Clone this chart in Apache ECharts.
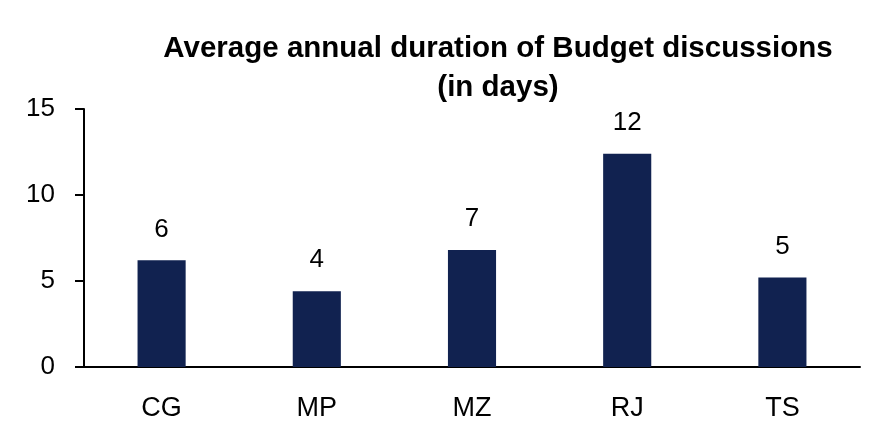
<!DOCTYPE html>
<html>
<head>
<meta charset="utf-8">
<script src="https://cdn.jsdelivr.net/npm/echarts@6/dist/echarts.min.js"></script>
<style>html,body{margin:0;padding:0;background:#fff}#c{width:878px;height:444px}</style>
</head>
<body>
<div id="c"></div>
<script>
const categories = ['CG', 'MP', 'MZ', 'RJ', 'TS'];
const values = [6.2, 4.4, 6.8, 12.4, 5.2];
const yTicks = [0, 5, 10, 15];

const FONT = '"Liberation Sans Narrow", "Arial Narrow", "Liberation Sans", Arial, sans-serif';
const chart = echarts.init(document.getElementById('c'));
chart.setOption({
  animation: false,
  title: {
    text: 'Average annual duration of Budget discussions\n(in days)',
    left: 493, top: 24, textAlign: 'center',
    textStyle: { fontFamily: FONT, fontWeight: 'bold', fontSize: 29.5, lineHeight: 39, color: '#000' }
  },
  grid: { left: 84, right: 18, top: 109, bottom: 77 },
  xAxis: {
    type: 'category', data: categories,
    axisLine: { lineStyle: { color: '#000', width: 2 } },
    axisTick: { show: false },
    axisLabel: { fontFamily: FONT, fontSize: 27, color: '#000', margin: 28 }
  },
  yAxis: {
    type: 'value', min: yTicks[0], max: yTicks[yTicks.length - 1], interval: 5,
    splitLine: { show: false },
    axisLine: { show: true, lineStyle: { color: '#000', width: 2 } },
    axisTick: { show: true, length: 9, lineStyle: { color: '#000', width: 2 } },
    axisLabel: { fontFamily: FONT, fontSize: 26, color: '#000', margin: 29 }
  },
  series: [{
    type: 'bar', data: values, barWidth: '31%',
    itemStyle: { color: '#112250' },
    label: {
      show: true, position: 'top', distance: 18,
      fontFamily: FONT, fontSize: 26, color: '#000',
      formatter: p => Math.round(p.value)
    }
  }]
});
</script>
</body>
</html>
